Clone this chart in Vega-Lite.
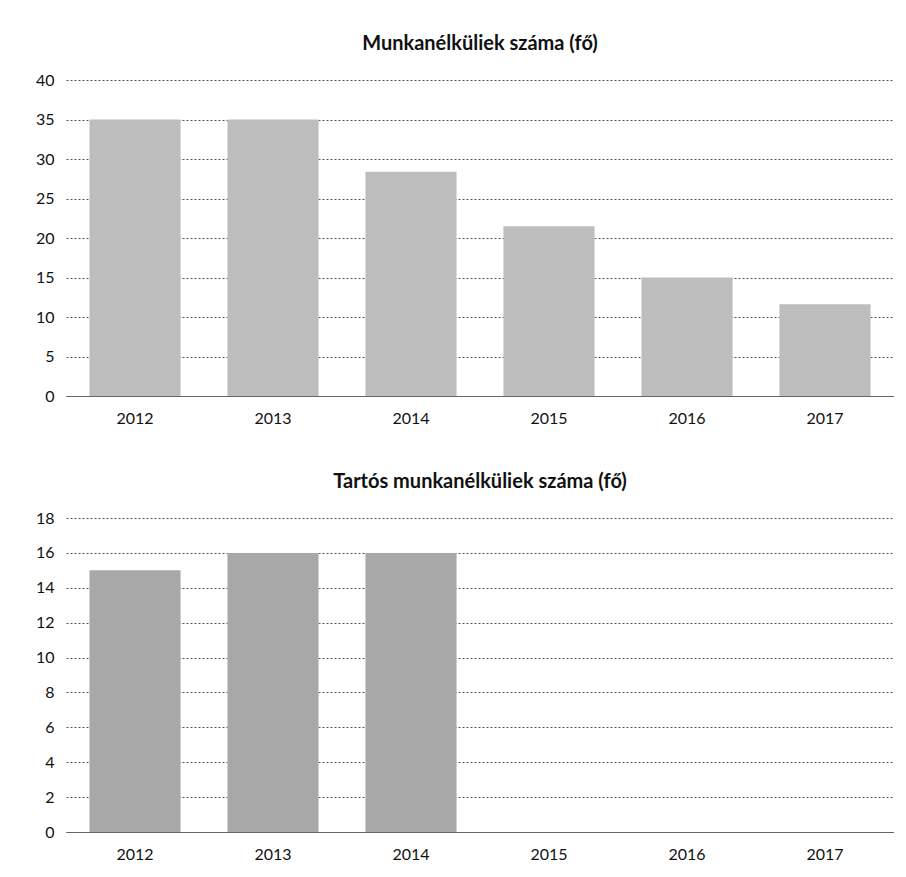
{
  "$schema": "https://vega.github.io/schema/vega-lite/v6.json",
  "background": "white",
  "padding": {"left": 35, "top": 34, "right": 0, "bottom": 0},
  "datasets": {
    "munka": [
      {"ev": "2012", "fo": 35},
      {"ev": "2013", "fo": 35},
      {"ev": "2014", "fo": 28.4},
      {"ev": "2015", "fo": 21.5},
      {"ev": "2016", "fo": 15},
      {"ev": "2017", "fo": 11.6}
    ],
    "tartos": [
      {"ev": "2012", "fo": 15},
      {"ev": "2013", "fo": 16},
      {"ev": "2014", "fo": 16},
      {"ev": "2015", "fo": 0},
      {"ev": "2016", "fo": 0},
      {"ev": "2017", "fo": 0}
    ]
  },
  "config": {
    "font": "Lato",
    "view": {"stroke": null},
    "axis": {"labelFont": "Lato", "labelFontSize": 16, "labelColor": "#111", "titleColor": "#111"},
    "title": {"font": "Lato", "fontSize": 20, "fontWeight": "bold", "color": "#111", "anchor": "middle"}
  },
  "spacing": 46,
  "vconcat": [
    {
      "width": 828,
      "height": 316,
      "title": {"text": "Munkanélküliek száma (fő)", "offset": 18},
      "data": {"name": "munka"},
      "mark": {"type": "bar", "color": "#bdbdbd"},
      "encoding": {
        "x": {
          "field": "ev", "type": "nominal", "title": null,
          "scale": {"paddingInner": 0.34, "paddingOuter": 0.17},
          "axis": {"labelAngle": 0, "ticks": false, "domain": true, "domainColor": "#666", "labelPadding": 14}
        },
        "y": {
          "field": "fo", "type": "quantitative", "title": null,
          "scale": {"domain": [0, 40]},
          "axis": {"values": [0, 5, 10, 15, 20, 25, 30, 35, 40], "domain": false, "ticks": false, "labelPadding": 12,
                   "gridDash": [2, 2], "gridColor": "#555", "gridWidth": 1}
        }
      }
    },
    {
      "width": 828,
      "height": 314,
      "title": {"text": "Tartós munkanélküliek száma (fő)", "offset": 18},
      "data": {"name": "tartos"},
      "mark": {"type": "bar", "color": "#a8a8a8"},
      "encoding": {
        "x": {
          "field": "ev", "type": "nominal", "title": null,
          "scale": {"paddingInner": 0.34, "paddingOuter": 0.17},
          "axis": {"labelAngle": 0, "ticks": false, "domain": true, "domainColor": "#666", "labelPadding": 14}
        },
        "y": {
          "field": "fo", "type": "quantitative", "title": null,
          "scale": {"domain": [0, 18]},
          "axis": {"values": [0, 2, 4, 6, 8, 10, 12, 14, 16, 18], "domain": false, "ticks": false, "labelPadding": 12,
                   "gridDash": [2, 2], "gridColor": "#555", "gridWidth": 1}
        }
      }
    }
  ]
}
